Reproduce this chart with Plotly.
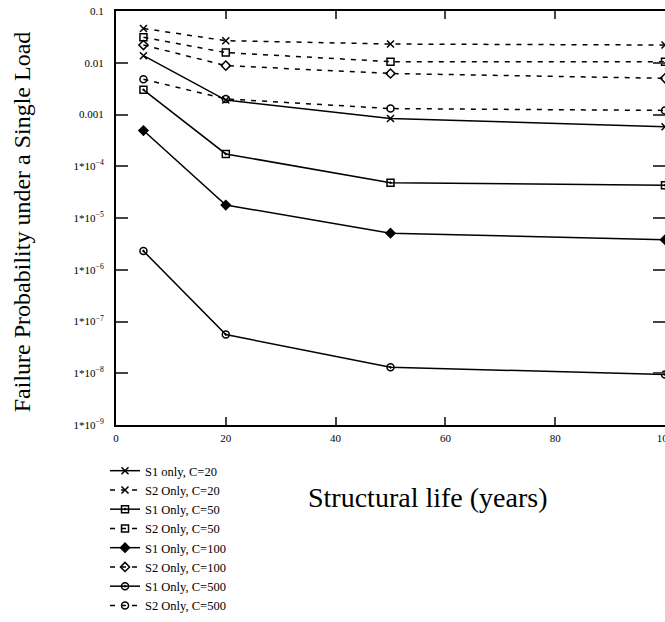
import plotly.graph_objects as go

years = [5, 20, 50, 100]

s1_c20 = [0.0137, 0.0019, 8.4e-4, 5.8e-4]
s2_c20 = [0.046, 0.0267, 0.023, 0.022]
s1_c50 = [0.0030, 1.73e-4, 4.8e-5, 4.3e-5]
s2_c50 = [0.031, 0.0157, 0.0105, 0.0105]
s1_c100 = [4.9e-4, 1.78e-5, 5.1e-6, 3.8e-6]
s2_c100 = [0.022, 0.0088, 0.0062, 0.0050]
s1_c500 = [2.3e-6, 5.6e-8, 1.3e-8, 9.5e-9]
s2_c500 = [0.0048, 0.0020, 0.0013, 0.0012]

series_names = ["S1 only, C=20", "S2 Only, C=20", "S1 Only, C=50", "S2 Only, C=50",
                "S1 Only, C=100", "S2 Only, C=100", "S1 Only, C=500", "S2 Only, C=500"]
series_vals = [s1_c20, s2_c20, s1_c50, s2_c50, s1_c100, s2_c100, s1_c500, s2_c500]
symbols = ["x-thin", "x-thin", "square-open-dot", "square-open",
           "diamond", "diamond-open", "circle-open-dot", "circle-open"]
dashes = ["solid", "5px,6px", "solid", "5px,6px", "solid", "5px,6px", "solid", "5px,6px"]

ytickvals = [1e-9, 1e-8, 1e-7, 1e-6, 1e-5, 1e-4, 1e-3, 1e-2, 1e-1]
yticktext = ["1*10<sup>−9</sup>", "1*10<sup>−8</sup>", "1*10<sup>−7</sup>", "1*10<sup>−6</sup>",
             "1*10<sup>−5</sup>", "1*10<sup>−4</sup>", "0.001", "0.01", "0.1"]
xtickvals = [0, 20, 40, 60, 80, 100]

SERIF = "Liberation Serif"

fig = go.Figure()
for name, vals, sym, dash in zip(series_names, series_vals, symbols, dashes):
    fig.add_trace(go.Scatter(
        x=years, y=vals, name=name, mode="lines+markers",
        line=dict(color="black", width=1.5, dash=dash),
        marker=dict(symbol=sym, size=7, color="black",
                    line=dict(color="black", width=1.5)),
        cliponaxis=False,
    ))

fig.update_layout(
    width=665, height=622,
    margin=dict(l=116, r=0, t=11, b=197, autoexpand=False),
    paper_bgcolor="white", plot_bgcolor="white",
    font=dict(family=SERIF, color="black"),
    showlegend=True,
    legend=dict(x=-0.02, y=-0.075, xanchor="left", yanchor="top",
                font=dict(family=SERIF, size=12.5, color="black"),
                itemwidth=30, tracegroupgap=0, bgcolor="rgba(0,0,0,0)"),
)
fig.update_xaxes(
    range=[0, 100], tickvals=xtickvals, ticks="inside", ticklen=8, tickwidth=1.5,
    showline=True, linecolor="black", linewidth=2, mirror="ticks",
    showgrid=False, zeroline=False, tickfont=dict(family=SERIF, size=11, color="black"),
    ticklabelstandoff=2, ticklabeloverflow="allow", automargin=False,
)
fig.update_yaxes(
    type="log", range=[-9, -1], tickvals=ytickvals, ticktext=yticktext,
    ticks="inside", ticklen=12, tickwidth=1.5,
    showline=True, linecolor="black", linewidth=2, mirror="ticks",
    showgrid=False, zeroline=False, tickfont=dict(family=SERIF, size=11, color="black"),
    ticklabelstandoff=8, automargin=False,
)
fig.add_annotation(text="Structural life (years)", xref="paper", yref="paper",
                   x=0.567, y=-0.174, xanchor="center", yanchor="middle",
                   showarrow=False, font=dict(family=SERIF, size=28, color="black"))
fig.add_annotation(text="Failure Probability under a Single Load", xref="paper", yref="paper",
                   x=-0.171, y=0.49, xanchor="center", yanchor="middle", textangle=-90,
                   showarrow=False, font=dict(family=SERIF, size=24, color="black"))

fig.write_html("out.html")
